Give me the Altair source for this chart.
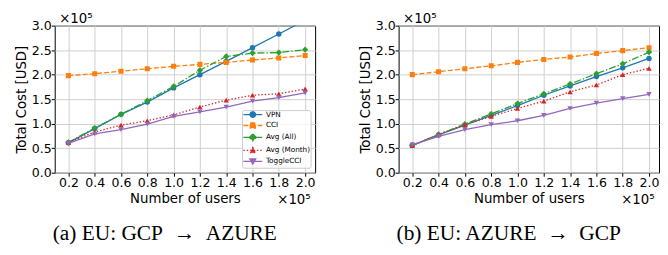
import altair as alt
import pandas as pd

users = [0.2, 0.4, 0.6, 0.8, 1.0, 1.2, 1.4, 1.6, 1.8, 2.0]
y_ticks = [0.0, 0.5, 1.0, 1.5, 2.0, 2.5, 3.0]
names = ["VPN", "CCI", "Avg (All)", "Avg (Month)", "ToggleCCI"]
colors = ["#1f77b4", "#ff7f0e", "#2ca02c", "#d62728", "#9467bd"]

# panel (a) EU: GCP -> AZURE   (values x 1e5 USD)
vpn_a = [0.61, 0.90, 1.19, 1.44, 1.73, 2.00, 2.27, 2.55, 2.83, 3.11]
cci_a = [1.98, 2.02, 2.07, 2.12, 2.17, 2.21, 2.25, 2.30, 2.34, 2.39]
all_a = [0.62, 0.91, 1.19, 1.47, 1.76, 2.09, 2.37, 2.44, 2.45, 2.51]
month_a = [0.62, 0.83, 0.97, 1.06, 1.18, 1.34, 1.48, 1.58, 1.61, 1.71]
toggle_a = [0.60, 0.79, 0.88, 0.99, 1.15, 1.24, 1.34, 1.46, 1.53, 1.63]

# panel (b) EU: AZURE -> GCP
vpn_b = [0.56, 0.77, 0.97, 1.17, 1.37, 1.58, 1.77, 1.96, 2.14, 2.33]
cci_b = [2.00, 2.06, 2.12, 2.18, 2.25, 2.31, 2.36, 2.43, 2.49, 2.55]
all_b = [0.56, 0.78, 0.99, 1.20, 1.41, 1.61, 1.81, 2.02, 2.22, 2.46]
month_b = [0.55, 0.78, 0.98, 1.15, 1.31, 1.46, 1.65, 1.79, 2.00, 2.13]
toggle_b = [0.57, 0.74, 0.88, 0.98, 1.06, 1.17, 1.31, 1.42, 1.51, 1.60]

caption_a = "(a) EU: GCP\u2002\u2192\u2002AZURE"
caption_b = "(b) EU: AZURE\u2002\u2192\u2002GCP"
exp_label = "\u00d710\u2075"

dashes = [None, [5, 2.2], [7, 2, 1.5, 2], [1.4, 2], None]
legend_dashes = [[1, 0], [5, 2.2], [7, 2, 1.5, 2], [1.4, 2], [1, 0]]
shapes = ["circle", "square", "diamond", "triangle-up", "triangle-down"]
sizes = [30, 26, 40, 30, 30]
# legend symbols: a line with the marker, unit = 3.5 px, marker centred at x=1.8
legend_paths = [
    "M-0.91,0H4.51M1.01,0A0.79,0.79,0,1,1,2.59,0A0.79,0.79,0,1,1,1.01,0Z",
    "M-0.91,0H4.51M1.06,-0.74H2.54V0.74H1.06Z",
    "M-0.91,0H4.51M1.8,-1L2.8,0L1.8,1L0.8,0Z",
    "M-0.91,0H4.51M1.8,-0.83L2.63,0.66L0.97,0.66Z",
    "M-0.91,0H4.51M1.8,0.83L2.63,-0.66L0.97,-0.66Z",
]

W, H = 262, 148


def panel(values, caption, with_legend):
    rows = []
    for n, vals in zip(names, values):
        for u, v in zip(users, vals):
            rows.append({"users": u, "cost": v, "series": n})
    df = pd.DataFrame(rows)
    xs = alt.X("users:Q",
               scale=alt.Scale(domain=[0.096, 2.076], nice=False, zero=False),
               axis=alt.Axis(values=users, format=".1f", title="Number of users"))
    ys = alt.Y("cost:Q",
               scale=alt.Scale(domain=[0, 3], nice=False),
               axis=alt.Axis(values=y_ticks, format=".1f", title="Total Cost [USD]"))
    layers = []
    for n, c, d, s, sz in zip(names, colors, dashes, shapes, sizes):
        sub = alt.Chart(df).transform_filter(alt.datum.series == n)
        lk = dict(color=c, strokeWidth=1.3, clip=True)
        if d is not None:
            lk["strokeDash"] = d
        layers.append(sub.mark_line(**lk).encode(x=xs, y=ys))
        layers.append(sub.mark_point(filled=True, color=c, shape=s, size=sz,
                                     opacity=1, clip=True).encode(x=xs, y=ys))
    if with_legend:
        leg = alt.Legend(orient="none", legendX=188.5, legendY=85, title=None,
                         padding=0, symbolSize=49, symbolStrokeWidth=1.3,
                         labelFontSize=7.3, labelFont="DejaVu Sans", labelOffset=15,
                         rowPadding=0, strokeColor="#cccccc",
                         fillColor="rgba(255,255,255,0.8)", cornerRadius=2,
                         labelColor="black", symbolOpacity=1)
        layers.append(
            alt.Chart(df).transform_filter("false").mark_point(
                opacity=1, filled=False, strokeWidth=1.3).encode(
                stroke=alt.Stroke("series:N", scale=alt.Scale(domain=names, range=colors), legend=leg),
                fill=alt.Fill("series:N", scale=alt.Scale(domain=names, range=colors), legend=leg),
                shape=alt.Shape("series:N", scale=alt.Scale(domain=names, range=legend_paths), legend=leg),
                strokeDash=alt.StrokeDash("series:N", scale=alt.Scale(domain=names, range=legend_dashes), legend=leg),
            )
        )
    tdf = pd.DataFrame({"t": [exp_label]})
    layers.append(alt.Chart(tdf).mark_text(align="left", baseline="alphabetic", fontSize=13.4,
                                           font="DejaVu Sans", color="black").encode(
        text="t:N", x=alt.value(4.5), y=alt.value(-3)))
    layers.append(alt.Chart(tdf).mark_text(align="right", baseline="alphabetic", fontSize=13.4,
                                           font="DejaVu Sans", color="black").encode(
        text="t:N", x=alt.value(W - 4.5), y=alt.value(H + 31.7)))
    return alt.layer(*layers).properties(
        width=W, height=H,
        title=alt.TitleParams(caption, orient="bottom", anchor="middle", frame="bounds",
                              font="Liberation Serif", fontSize=21.5, fontWeight="normal",
                              color="black", offset=16.5))


left = panel([vpn_a, cci_a, all_a, month_a, toggle_a], caption_a, True)
right = panel([vpn_b, cci_b, all_b, month_b, toggle_b], caption_b, False)

chart = alt.hconcat(left, right, spacing=41).resolve_scale(
    stroke="independent", fill="independent", shape="independent", strokeDash="independent"
).resolve_legend(
    stroke="independent", fill="independent", shape="independent", strokeDash="independent"
).properties(
    padding={"left": 5, "top": 2, "right": 0, "bottom": 0}
).configure_view(stroke="black", strokeWidth=1).configure_axis(
    domain=False, grid=True, gridColor="#d0d0d0", gridWidth=1,
    tickColor="black", tickSize=3.5, tickWidth=1,
    labelColor="black", titleColor="black",
    labelFont="DejaVu Sans", titleFont="DejaVu Sans",
    labelFontSize=12.6, titleFontSize=13.4, titleFontWeight="normal",
    labelPadding=0, labelFlush=False, labelOverlap=False,
).configure_axisX(titlePadding=2.5).configure_axisY(titlePadding=3)

chart.save("out.html", embed_options={"renderer": "svg", "actions": False})
